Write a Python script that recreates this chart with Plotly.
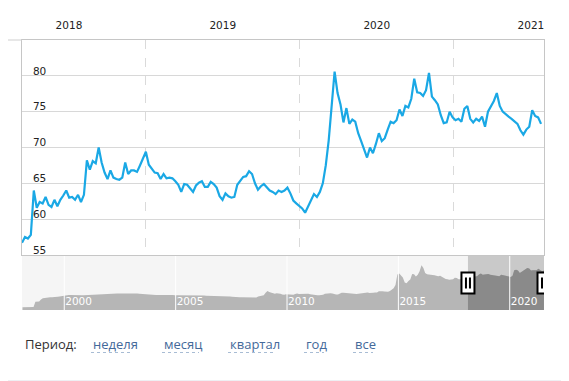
import pandas as pd
import plotly.graph_objects as go

W, H = 569, 381
OFF = 8  # page body margin in the browser

# ---------------- data ----------------
main_start = "2018-03-13"
main_end = "2021-08-03"
# weekly USD/RUB-like closing values
main_values = [
    56.7, 57.5, 57.3, 57.8, 64.0, 61.6, 62.4, 62.2, 63.1, 62.0,
    61.7, 62.7, 61.8, 62.7, 63.3, 64.0, 63.0, 63.1, 62.7, 63.4,
    62.4, 63.4, 68.2, 66.9, 68.1, 67.8, 70.0, 67.9, 66.5, 65.6,
    66.8, 65.8, 65.6, 65.5, 65.8, 67.9, 66.3, 66.8, 66.8, 66.6,
    67.5, 68.6, 69.4, 67.6, 67.0, 66.5, 66.4, 65.6, 66.3, 65.7,
    65.8, 65.7, 65.3, 64.8, 63.8, 64.9, 64.8, 64.3, 63.8, 64.7,
    65.1, 65.3, 64.5, 64.5, 65.2, 64.9, 64.4, 63.2, 62.7, 63.6,
    63.2, 63.0, 63.1, 64.8, 65.3, 65.9, 66.0, 66.7, 66.3, 65.0,
    64.1, 64.6, 64.9, 64.5, 64.0, 63.8, 63.5, 64.0, 63.8, 64.0,
    64.4, 63.6, 62.6, 62.2, 61.8, 61.5, 60.9, 61.7, 62.6, 63.5,
    63.1, 63.8, 65.0, 67.5, 71.0, 76.5, 80.6, 77.6, 76.0, 73.5,
    75.5, 73.3, 73.9, 73.6, 72.0, 70.9, 69.8, 68.6, 70.0, 69.2,
    70.5, 72.0, 70.9, 71.3, 72.5, 73.6, 73.4, 73.8, 75.3, 74.4,
    75.8, 75.6, 76.8, 79.6, 77.7, 77.6, 77.2, 78.0, 80.4, 77.1,
    76.6, 76.0, 74.5, 73.4, 73.5, 75.0, 74.2, 73.8, 74.0, 73.6,
    75.4, 75.8, 74.0, 73.5, 74.0, 73.7, 74.3, 72.9, 75.0, 75.7,
    76.5, 77.6, 75.8, 75.0, 74.6, 74.3, 74.0, 73.6, 73.3, 72.4,
    71.8, 72.5, 72.9, 75.2, 74.4, 74.2, 73.3,
]
main_dates = pd.date_range(main_start, periods=len(main_values), freq="7D")

# monthly values (15th of each month) for the navigator, Feb 1998 .. Jul 2021
nav_values = [
    6.05, 6.09, 6.12, 6.15, 6.19, 6.22, 6.29, 16.0, 15.9, 16.4, 20.2,              # 1998
    22.4, 22.8, 23.4, 24.6, 24.5, 24.3, 24.2, 24.8, 25.1, 25.6, 26.2, 26.8,        # 1999
    28.5, 28.7, 28.5, 28.6, 28.3, 28.2, 27.9, 27.8, 27.8, 27.9, 27.9, 28.0,        # 2000
    28.4, 28.7, 28.7, 28.8, 29.1, 29.1, 29.2, 29.3, 29.4, 29.5, 29.8, 30.0,        # 2001
    30.4, 30.8, 31.0, 31.1, 31.2, 31.4, 31.5, 31.5, 31.6, 31.7, 31.8, 31.9,        # 2002
    31.8, 31.6, 31.4, 31.2, 30.9, 30.5, 30.4, 30.4, 30.6, 30.0, 29.7, 29.4,        # 2003
    28.9, 28.5, 28.5, 28.6, 29.0, 29.0, 29.1, 29.2, 29.2, 29.0, 28.6, 27.9,        # 2004
    27.9, 27.9, 27.6, 27.8, 27.9, 28.3, 28.7, 28.5, 28.4, 28.5, 28.8, 28.8,        # 2005
    28.2, 28.1, 27.9, 27.6, 27.0, 27.0, 26.9, 26.8, 26.7, 26.8, 26.6, 26.4,        # 2006
    26.5, 26.3, 26.1, 25.8, 25.9, 25.9, 25.5, 25.6, 25.2, 24.9, 24.6, 24.5,        # 2007
    24.5, 24.6, 23.9, 23.4, 23.7, 23.7, 23.3, 24.0, 25.6, 26.5, 27.5, 27.9,        # 2008
    32.5, 35.7, 34.2, 33.5, 32.0, 31.0, 31.9, 31.6, 31.0, 29.2, 28.9, 30.1,        # 2009
    29.7, 30.0, 29.6, 29.1, 30.3, 31.2, 30.3, 30.4, 31.0, 30.3, 31.0, 30.8,        # 2010
    30.0, 29.3, 28.6, 27.8, 27.9, 27.9, 27.8, 28.8, 31.0, 31.5, 30.8, 31.8,        # 2011
    31.3, 29.7, 29.2, 29.4, 31.5, 32.6, 32.4, 32.1, 31.2, 31.2, 31.4, 30.8,        # 2012
    30.2, 30.2, 30.8, 31.3, 31.4, 32.4, 32.6, 33.1, 32.3, 32.0, 32.8, 33.1,        # 2013
    33.3, 35.4, 36.0, 35.6, 34.9, 34.5, 34.5, 35.7, 38.0, 41.0, 47.0, 66.0,        # 2014
    68.0, 64.5, 60.5, 51.5, 50.0, 54.2, 57.0, 67.0, 66.5, 62.5, 65.5, 72.0,        # 2015
    83.0, 78.0, 69.0, 66.4, 65.5, 65.0, 65.0, 64.5, 63.8, 62.8, 64.0, 62.0,        # 2016
    59.5, 58.0, 57.5, 56.5, 57.0, 57.4, 60.0, 59.8, 57.6, 57.5, 59.2, 58.6,        # 2017
    56.5, 56.4, 57.3, 61.7, 62.2, 62.7, 62.8, 66.0, 68.0, 65.7, 66.5, 67.0,        # 2018
    67.0, 65.6, 65.2, 64.7, 64.5, 63.9, 63.0, 65.5, 64.5, 64.4, 63.8, 62.5,        # 2019
    61.5, 63.5, 74.0, 74.6, 73.5, 69.0, 71.5, 73.7, 76.0, 77.8, 77.0, 73.5,        # 2020
    73.9, 74.0, 74.0, 76.5, 74.0, 72.2, 73.3,                                      # 2021
]
nav_dates = pd.date_range("1998-02-01", periods=len(nav_values), freq="MS") + pd.Timedelta(days=14)
nav_range = ["1998-02-07", "2021-07-16"]
sel_start = pd.Timestamp("2018-02-15")

y_ticks = [55, 60, 65, 70, 75, 80]
nav_years = ["2000", "2005", "2010", "2015", "2020"]
period_title = "Период:"
period_links = ["неделя", "месяц", "квартал", "год", "все"]


# ---------------- helpers (page pixel -> paper fraction) ----------------
def px(x):
    return (x - OFF) / W


def py(y):
    return 1 - (y - OFF) / H


FONT = "DejaVu Sans"
LINE_COLOR = "#1aa8e5"

fig = go.Figure()

# navigator areas
fig.add_trace(go.Scatter(
    x=nav_dates, y=nav_values, mode="lines", line=dict(width=0, color="#b6b6b6"),
    fill="tozeroy", fillcolor="#b6b6b6", xaxis="x2", yaxis="y2",
    hoverinfo="skip", showlegend=False,
))
sel_mask = nav_dates >= sel_start
fig.add_trace(go.Scatter(
    x=nav_dates[sel_mask], y=[v for v, m in zip(nav_values, sel_mask) if m],
    mode="lines", line=dict(width=0, color="#8a8a8a"),
    fill="tozeroy", fillcolor="#8a8a8a", xaxis="x2", yaxis="y2",
    hoverinfo="skip", showlegend=False,
))

# main line
fig.add_trace(go.Scatter(
    x=main_dates, y=main_values, mode="lines",
    line=dict(color=LINE_COLOR, width=2.2), showlegend=False,
    xaxis="x", yaxis="y",
))

shapes = []
# page card
shapes.append(dict(type="rect", xref="paper", yref="paper", x0=0, x1=px(561),
                   y0=py(380), y1=1, fillcolor="white", line=dict(width=0), layer="below"))
shapes.append(dict(type="line", xref="paper", yref="paper", x0=0, x1=px(22),
                   y0=py(40), y1=py(40), line=dict(color="#cfcfcf", width=1)))
# navigator backgrounds
shapes.append(dict(type="rect", xref="x2 domain", yref="y2 domain", x0=0, x1=1, y0=0, y1=1,
                   fillcolor="#f5f5f5", line=dict(width=0), layer="below"))
shapes.append(dict(type="rect", xref="x2", yref="y2 domain", x0=sel_start, x1=nav_range[1],
                   y0=0, y1=1, fillcolor="#c9c9c9", line=dict(width=0), layer="below"))
# navigator year lines (above area)
for yr in nav_years:
    shapes.append(dict(type="line", xref="x2", yref="y2 domain", x0=f"{yr}-01-01", x1=f"{yr}-01-01",
                       y0=0, y1=1, line=dict(color="white", width=1), layer="above"))
# handles
for anchor in [sel_start, pd.Timestamp(nav_range[1])]:
    shapes.append(dict(type="rect", xref="x2", yref="y2", xsizemode="pixel", ysizemode="pixel",
                       xanchor=anchor, yanchor=50.5, x0=-6.5, x1=6.5, y0=-10.5, y1=10.5,
                       fillcolor="white", line=dict(color="black", width=2), layer="above"))
    for dx in (-2, 2):
        shapes.append(dict(type="line", xref="x2", yref="y2", xsizemode="pixel", ysizemode="pixel",
                           xanchor=anchor, yanchor=50.5, x0=dx, x1=dx, y0=-5.5, y1=5.5,
                           line=dict(color="black", width=2), layer="above"))

annotations = [dict(text=period_title, xref="paper", yref="paper", x=px(23), y=py(344),
                    xanchor="left", yanchor="middle", showarrow=False,
                    font=dict(family="Open Sans", size=13, color="#333333"))]
link_x = [91, 162, 228, 304, 353]
link_w = [42, 37, 47, 20, 20]
for lbl, lx, lw in zip(period_links, link_x, link_w):
    annotations.append(dict(text=lbl, xref="paper", yref="paper", x=px(lx), y=py(344),
                            xanchor="left", yanchor="middle", showarrow=False,
                            font=dict(family="Open Sans", size=13, color="#44699a")))
    shapes.append(dict(type="line", xref="paper", yref="paper", x0=px(lx), x1=px(lx + lw),
                       y0=py(352.5), y1=py(352.5), line=dict(color="#a8bcd4", width=1, dash="dot")))

fig.update_layout(
    width=W, height=H,
    margin=dict(l=0, r=0, t=0, b=0, autoexpand=False),
    paper_bgcolor="#eeeff3",
    plot_bgcolor="white",
    showlegend=False,
    shapes=shapes,
    annotations=annotations,
    xaxis=dict(
        domain=[px(22), px(544)], anchor="y", side="top",
        range=[main_start, main_end], type="date",
        tick0="2018-01-01", dtick="M12", tickformat="%Y", ticklabelmode="period",
        showgrid=True, gridcolor="#dadada", griddash="dash", gridwidth=1,
        showline=True, linecolor="#c6c6c6", linewidth=1, mirror=True,
        ticks="", ticklabelstandoff=6, automargin=False,
        tickfont=dict(family=FONT, size=10.5, color="#222222"),
        zeroline=False, fixedrange=True,
    ),
    yaxis=dict(
        domain=[py(255), py(40)], anchor="x",
        range=[55, 85], tickvals=y_ticks,
        showgrid=True, gridcolor="#d8d8d8", gridwidth=1,
        showline=True, linecolor="#c6c6c6", mirror=True,
        ticks="", ticklabelposition="inside", ticklabelstandoff=10, ticklabelshift=-5,
        ticklabeloverflow="hide past div", automargin=False,
        tickfont=dict(family=FONT, size=10.5, color="#222222"),
        zeroline=False, fixedrange=True,
    ),
    xaxis2=dict(
        domain=[px(22), px(544)], anchor="free", position=py(313), type="date", range=nav_range,
        tickvals=[f"{y}-01-01" for y in nav_years], ticktext=nav_years,
        ticklabelposition="inside right", ticks="", ticklabelshift=1, automargin=False,
        tickfont=dict(family=FONT, size=10.5, color="white"),
        showgrid=False, showline=False, zeroline=False, fixedrange=True,
    ),
    yaxis2=dict(
        domain=[py(310), py(256)], anchor="x2", range=[1, 100],
        visible=False, fixedrange=True,
    ),
)

fig.write_html("out.html")
